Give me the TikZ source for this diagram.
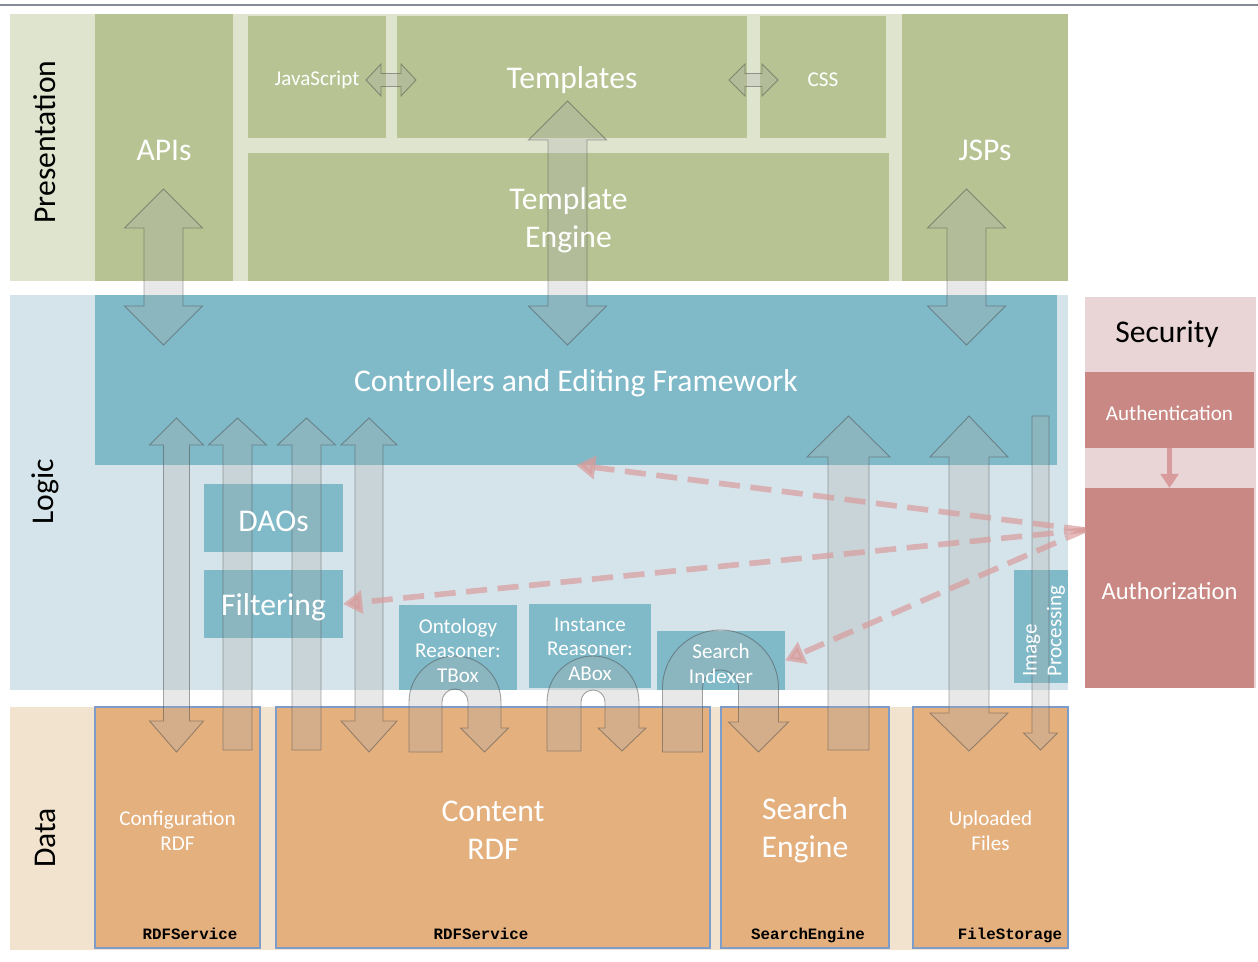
\documentclass[tikz,border=0pt]{standalone}
\usepackage{fontspec}
\setmainfont{Carlito}
\setmonofont{Liberation Mono}
\usetikzlibrary{arrows.meta}

\definecolor{presband}{HTML}{DFE4CF}
\definecolor{presgreen}{HTML}{B7C392}
\definecolor{logicband}{HTML}{D5E4EA}
\definecolor{logicblue}{HTML}{80B9C8}
\definecolor{secband}{HTML}{E9D5D6}
\definecolor{secred}{HTML}{C98883}
\definecolor{databand}{HTML}{F2E3CE}
\definecolor{dataorange}{HTML}{E4B07E}
\definecolor{databorder}{HTML}{7E9CCA}
\definecolor{secpink}{HTML}{D89C9C}
\definecolor{topline}{HTML}{868C96}

\pgfdeclarelayer{boxes}
\pgfdeclarelayer{blocks}
\pgfsetlayers{boxes,blocks,main}

% box from corners: style, name, x1, y1, x2, y2, text
\newcommand{\blk}[7]{%
    \pgfmathsetmacro{\bw}{(#5-#3)*0.02}
    \pgfmathsetmacro{\bh}{(#6-#4)*0.02}
    \begin{pgfonlayer}{boxes}
    \node[#1, minimum width=\bw cm, minimum height=\bh cm] (#2)
        at ({(#3+#5)/2},{(#4+#6)/2}) {};
    \end{pgfonlayer}
    \node[#1, fill=none, draw=none, yshift=-1.7pt] (#2-t) at (#2.center) {#7};
}
% vertical double block arrow: x, top tip, bottom tip, half shaft, half head, head top, head bottom
\newcommand{\dblarrowv}[7]{%
    \begin{pgfonlayer}{blocks}
    \draw[blockarr] (#1,#2) -- ({#1+#5},{#2+#6}) -- ({#1+#4},{#2+#6})
        -- ({#1+#4},{#3-#7}) -- ({#1+#5},{#3-#7}) -- (#1,#3)
        -- ({#1-#5},{#3-#7}) -- ({#1-#4},{#3-#7}) -- ({#1-#4},{#2+#6})
        -- ({#1-#5},{#2+#6}) -- cycle;
    \end{pgfonlayer}
}
% up block arrow: x, tip, flat end, half shaft, half head, head
\newcommand{\uparr}[6]{%
    \begin{pgfonlayer}{blocks}
    \draw[blockarr] (#1,#2) -- ({#1+#5},{#2+#6}) -- ({#1+#4},{#2+#6})
        -- ({#1+#4},#3) -- ({#1-#4},#3) -- ({#1-#4},{#2+#6})
        -- ({#1-#5},{#2+#6}) -- cycle;
    \end{pgfonlayer}
}
% down block arrow: x, flat end, tip, half shaft, half head, head
\newcommand{\downarr}[6]{%
    \begin{pgfonlayer}{blocks}
    \draw[blockarr] ({#1-#4},#2) -- ({#1+#4},#2) -- ({#1+#4},{#3-#6})
        -- ({#1+#5},{#3-#6}) -- (#1,#3) -- ({#1-#5},{#3-#6})
        -- ({#1-#4},{#3-#6}) -- cycle;
    \end{pgfonlayer}
}
% horizontal double block arrow: left tip, right tip, y, half shaft, half head, head
\newcommand{\dblarrowh}[6]{%
    \begin{pgfonlayer}{blocks}
    \draw[blockarr] (#1,#3) -- ({#1+#6},{#3-#5}) -- ({#1+#6},{#3-#4})
        -- ({#2-#6},{#3-#4}) -- ({#2-#6},{#3-#5}) -- (#2,#3)
        -- ({#2-#6},{#3+#5}) -- ({#2-#6},{#3+#4}) -- ({#1+#6},{#3+#4})
        -- ({#1+#6},{#3+#5}) -- cycle;
    \end{pgfonlayer}
}
% u-turn block arrow: x, arc y, outer r, inner r, bottom, half head, head base
\newcommand{\uturn}[7]{%
    \pgfmathsetmacro{\um}{(#3+#4)/2}
    \begin{pgfonlayer}{blocks}
    \draw[blockarr] ({#1-#3},#5) -- ({#1-#3},#2)
        arc[start angle=180, end angle=0, radius=#3*0.02cm]
        -- ({#1+#3},#7) -- ({#1+\um+#6},#7) -- ({#1+\um},#5)
        -- ({#1+\um-#6},#7) -- ({#1+#4},#7) -- ({#1+#4},#2)
        arc[start angle=0, end angle=180, radius=#4*0.02cm]
        -- ({#1-#4},#5) -- cycle;
    \end{pgfonlayer}
}

\begin{document}
\begin{tikzpicture}[x=0.02cm, y=-0.02cm,
    cell/.style={inner sep=0pt, outer sep=0pt, align=center, text=white},
    pbox/.style={cell, fill=presgreen},
    lbox/.style={cell, fill=logicblue},
    sbox/.style={cell, fill=secred},
    dbox/.style={cell, fill=dataorange, draw=databorder, line width=0.6pt},
    fbig/.style={font=\fontsize{18}{21.5}\selectfont},
    fmid/.style={font=\fontsize{14}{16}\selectfont},
    fsmall/.style={font=\fontsize{12}{14}\selectfont},
    bandlabel/.style={rotate=90, font=\fontsize{18}{21}\selectfont},
    mono/.style={font=\ttfamily\bfseries\fontsize{9}{10}\selectfont},
    blockarr/.style={fill=black!33, fill opacity=0.28, draw=black!70,
        draw opacity=0.5, line width=0.5pt},
    secdash/.style={draw=secpink, opacity=0.7, line width=3.2pt,
        dash pattern=on 12pt off 6pt, -{Triangle[length=11pt, width=13pt]}},
    secsolid/.style={draw=secpink, line width=2.8pt,
        -{Triangle[length=8pt, width=10pt]}}]

    \useasboundingbox (0,0) rectangle (1258,962);
    \draw[topline, line width=0.8pt] (0,5) -- (1258,5);

    % presentation layer
    \blk{cell, fill=presband}{pres}{10}{14}{1068}{281}{}
    \node[bandlabel] (preslabel) at (45,142) {Presentation};
    \blk{pbox,fbig}{apis}{95}{14}{233}{281}{APIs}
    \blk{pbox,fsmall}{js}{248}{16}{386}{138}{JavaScript}
    \blk{pbox,fbig}{tmpl}{397}{16}{747}{138}{Templates}
    \blk{pbox,fsmall}{css}{760}{16}{886}{138}{CSS}
    \blk{pbox,fbig}{teng}{248}{153}{889}{281}{Template\\Engine}
    \blk{pbox,fbig}{jsps}{902}{14}{1068}{281}{JSPs}

    % logic layer
    \blk{cell, fill=logicband}{logic}{10}{295}{1068}{690}{}
    \node[bandlabel] (logiclabel) at (45,492) {Logic};
    \blk{lbox,fbig}{ctrl}{95}{295}{1057}{465}{Controllers and Editing Framework}
    \blk{lbox,fbig}{dao}{204}{484}{343}{552}{DAOs}
    \blk{lbox,fbig}{filter}{204}{570}{343}{638}{Filtering}
    \blk{lbox,fsmall}{tbox}{399}{605}{517}{690}{Ontology\\Reasoner:\\TBox}
    \blk{lbox,fsmall}{abox}{529}{604}{651}{688}{Instance\\Reasoner:\\ABox}
    \blk{lbox,fsmall}{indexer}{657}{631}{785}{690}{Search\\Indexer}
    \blk{lbox}{imgproc}{1014}{570}{1068}{683}{}
    \node[cell, fsmall, rotate=90, align=left] (imgtext) at (1044,631)
        {Image\\Processing};

    % security
    \blk{cell, fill=secband}{sec}{1085}{297}{1256}{688}{}
    \node[fbig] (seclabel) at (1167,334) {Security};
    \blk{sbox,fsmall}{auth}{1085}{372}{1254}{448}{Authentication}
    \blk{sbox,fmid}{authz}{1085}{488}{1254}{688}{Authorization}

    % data layer
    \blk{cell, fill=databand}{data}{10}{707}{1068}{950}{}
    \node[bandlabel] (datalabel) at (45,838) {Data};
    \blk{dbox,fsmall}{cfg}{95}{707}{260}{948}{Configuration\\RDF}
    \blk{dbox,fbig}{content}{276}{707}{710}{948}{Content\\RDF}
    \blk{dbox,fbig}{search}{721}{707}{889}{948}{Search\\Engine}
    \blk{dbox,fsmall}{files}{913}{707}{1068}{948}{Uploaded\\Files}
    \node[mono] (cfgsvc) at (190,934) {RDFService};
    \node[mono] (contsvc) at (481,934) {RDFService};
    \node[mono] (searchsvc) at (808,935) {SearchEngine};
    \node[mono] (filesvc) at (1010,935) {FileStorage};

    % presentation <-> controllers
    \foreach \cx/\ty in {163.5/189, 567.5/101, 966.5/189} {
        \dblarrowv{\cx}{\ty}{345}{19.5}{39}{39}{39}
    }
    \dblarrowh{366}{416}{80}{6.5}{16}{15}
    \dblarrowh{729}{778}{80}{6.5}{16}{16}

    % data <-> controllers
    \dblarrowv{176.5}{418}{752}{13}{27}{27}{31}
    \dblarrowv{369}{418}{752}{14}{28}{27}{31}
    \foreach \cx in {237.5, 306.5} {
        \uparr{\cx}{418}{750}{14.5}{29}{27}
    }
    \uparr{848.5}{416}{750}{20.5}{41.5}{41}
    \dblarrowv{969}{416}{751}{20}{39}{41}{38}
    \downarr{1040.5}{416}{750}{8.5}{17}{17}

    % reasoners and indexer
    \uturn{455}{702}{46}{13}{752}{24}{728}
    \uturn{593}{702}{46}{12}{751}{24}{728}
    \uturn{720.5}{688}{58}{18}{752}{30}{722}

    % authorization checks
    \coordinate (authsrc) at (1085,530);
    \draw[secdash] (authsrc) -- (ctrl.south);
    \draw[secdash] (authsrc) -- (filter.east);
    \draw[secdash] (authsrc) -- (indexer.east);
    \draw[secsolid] (auth.south) -- (authz.north);

\end{tikzpicture}
\end{document}
